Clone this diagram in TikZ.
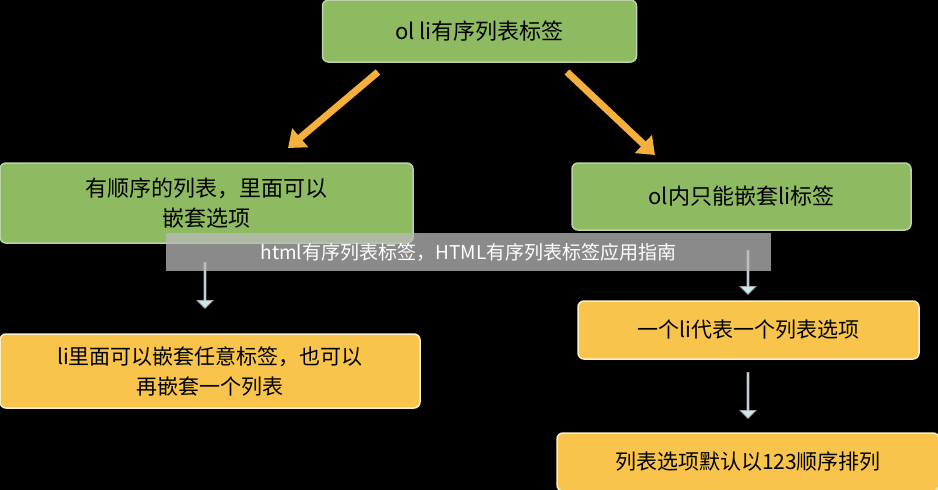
\documentclass[tikz,border=0pt]{standalone}
\usepackage{fontspec}
\newfontfamily\cjk{Noto Sans CJK SC}
\usetikzlibrary{shapes.arrows,arrows.meta}
\definecolor{boxgreen}{RGB}{142,186,98}
\definecolor{boxorange}{RGB}{248,196,76}
\definecolor{arrowblue}{RGB}{204,232,236}
\tikzset{every picture/.style={line width=0.75pt}}
\tikzset{
  greenbox/.style={draw={rgb,255:red,190;green,210;blue,170},fill=boxgreen,rounded corners=6pt,line width=1.5pt,align=center,font=\cjk\fontsize{22}{30}\selectfont,inner sep=0pt},
  orangebox/.style={draw={rgb,255:red,255;green,240;blue,200},fill=boxorange,rounded corners=6pt,line width=1.5pt,align=center,font=\cjk\fontsize{21}{30}\selectfont,inner sep=0pt},
  downarrow/.style={single arrow,shape border rotate=270,draw=gray!70,fill=arrowblue,minimum width=16pt,single arrow head extend=3pt,inner sep=0pt},
  bigarrow/.style={draw={rgb,255:red,245;green,175;blue,60},line width=7pt,-{Triangle[length=16pt,width=24pt]}}
}
\begin{document}
\begin{tikzpicture}[x=1pt,y=1pt,yscale=-1]
\fill[black] (0,0) rectangle (938,490);
\useasboundingbox (0,0) rectangle (938,490);

% Green boxes
\node[greenbox,minimum width=314pt,minimum height=62pt] (top) at (479.5,31) {ol li有序列表标签};
\node[greenbox,minimum width=413pt,minimum height=80pt] (left) at (206.5,203) {有顺序的列表，里面可以\\嵌套选项};
\node[greenbox,minimum width=339pt,minimum height=67pt] (right) at (741.5,196.5) {ol内只能嵌套li标签};

% Orange boxes
\node[orangebox,minimum width=420pt,minimum height=74pt] (lefto) at (210,371) {li里面可以嵌套任意标签，也可以\\再嵌套一个列表};
\node[orangebox,minimum width=341pt,minimum height=58pt] (righto) at (748.5,330) {一个li代表一个列表选项};
\node[orangebox,minimum width=382pt,minimum height=58pt] (bottomo) at (748,462) {列表选项默认以123顺序排列};

% Arrows
\coordinate (a1) at (378,72);
\coordinate (a2) at (288,148);
\coordinate (b1) at (567,72);
\coordinate (b2) at (655,155);
\draw[bigarrow] (a1) -- (a2);
\draw[bigarrow] (b1) -- (b2);
\node[downarrow,minimum height=46pt] (d1) at (205,285) {};
\node[downarrow,minimum height=44pt] (d2) at (748,272) {};
\node[downarrow,minimum height=46pt] (d3) at (748,395) {};

% Watermark
\node[fill=gray!55,fill opacity=0.75,text opacity=1,text=white,minimum width=605pt,minimum height=38pt,font=\cjk\fontsize{19}{22}\selectfont] (wm) at (468.5,252) {html有序列表标签，HTML有序列表标签应用指南};
\end{tikzpicture}
\end{document}
